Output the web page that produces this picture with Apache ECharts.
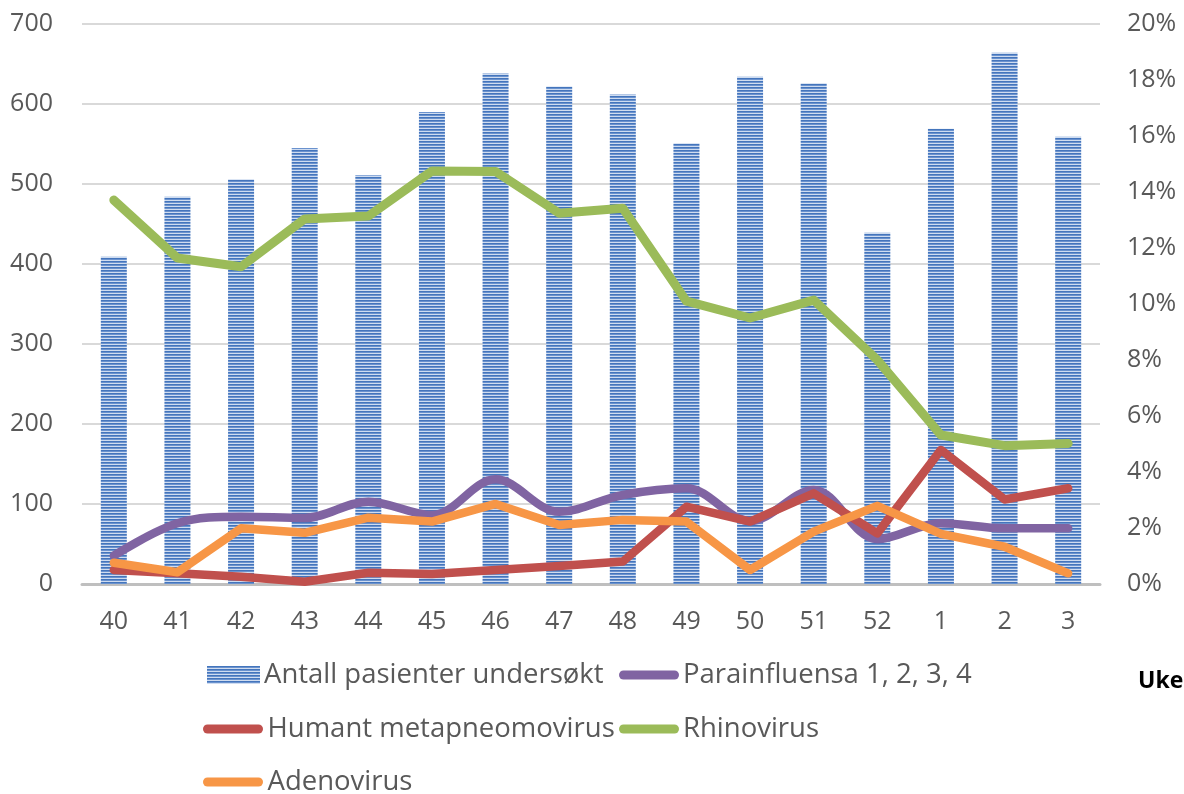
<!DOCTYPE html>
<html>
<head>
<meta charset="utf-8">
<script src="https://cdn.jsdelivr.net/npm/echarts@6/dist/echarts.min.js"></script>
<style>
html,body{margin:0;padding:0;background:#fff;}
#chart{width:1184px;height:794px;}
</style>
</head>
<body>
<div id="chart"></div>
<script>
const weeks = ['40','41','42','43','44','45','46','47','48','49','50','51','52','1','2','3'];
const patients = [409, 484, 506, 545, 511, 590, 638, 622, 612, 551, 634, 626, 439, 569, 664, 559];
const parainfluensa = [0.0101, 0.0217, 0.0240, 0.0236, 0.0294, 0.0246, 0.0374, 0.0258, 0.0318, 0.0342, 0.0225, 0.0336, 0.0160, 0.0217, 0.0199, 0.0199];
const metapneumo = [0.0050, 0.0038, 0.0026, 0.0008, 0.0040, 0.0036, 0.0050, 0.0064, 0.0080, 0.0276, 0.0223, 0.0324, 0.0181, 0.0479, 0.0302, 0.0342];
const rhinovirus = [0.1371, 0.1164, 0.1133, 0.1304, 0.1314, 0.1475, 0.1473, 0.1324, 0.1342, 0.1010, 0.0950, 0.1014, 0.0800, 0.0532, 0.0494, 0.0502];
const adenovirus = [0.0076, 0.0042, 0.0199, 0.0183, 0.0237, 0.0223, 0.0286, 0.0211, 0.0229, 0.0223, 0.0050, 0.0187, 0.0279, 0.0179, 0.0133, 0.0038];
const leftTicks = {min: 0, max: 700, interval: 100};
const rightTicks = {min: 0, max: 0.2, interval: 0.02};
const names = ['Antall pasienter undersøkt', 'Parainfluensa 1, 2, 3, 4', 'Humant metapneomovirus', 'Rhinovirus', 'Adenovirus'];

const cv = document.createElement('canvas');
cv.width = 4; cv.height = 3;
const cx = cv.getContext('2d');
const rows = ['#4475bc', '#6a92ce', '#cfdcf0'];
rows.forEach((c, i) => { cx.fillStyle = c; cx.fillRect(0, i, 4, 1); });
const barPattern = {image: cv, repeat: 'repeat'};

const FONT = 'Open Sans';
const lineIcon = 'path://M4.5,0 H55.5 A4.5,4.5 0 0 1 55.5,9 H4.5 A4.5,4.5 0 0 1 4.5,0 Z';
const colors = ['#4f81bd', '#8064a2', '#c0504d', '#9bbb59', '#f79646'];

function mkLegend(name, left, top, icon, w, h) {
  return {
    data: [{name: name, icon: icon}],
    left: left, top: top,
    itemWidth: w, itemHeight: h,
    itemGap: 0, padding: 0,
    textStyle: {fontFamily: FONT, fontSize: 27.5, color: '#595959', padding: [0, 0, 0, -1]},
    selectedMode: false
  };
}

const chart = echarts.init(document.getElementById('chart'), null, {renderer: 'canvas'});
const lineBase = (width) => ({width: width, cap: 'round', join: 'round'});
chart.setOption({
  animation: false,
  textStyle: {fontFamily: FONT},
  grid: {left: 82, right: 84, top: 24, bottom: 210, containLabel: false},
  legend: [
    mkLegend(names[0], 207, 661, 'rect', 53, 18),
    mkLegend(names[1], 619, 661, lineIcon, 60, 9),
    mkLegend(names[2], 203, 715, lineIcon, 61, 9),
    mkLegend(names[3], 619, 715, lineIcon, 60, 9),
    mkLegend(names[4], 203, 768, lineIcon, 61, 9)
  ],
  graphic: [{
    type: 'text', left: 1138, top: 670,
    style: {text: 'Uke', fontFamily: FONT, fontWeight: 'bold', fontSize: 23, fill: '#000'}
  }],
  xAxis: {
    type: 'category', data: weeks, boundaryGap: true,
    axisLine: {lineStyle: {color: '#bfbfbf', width: 3}},
    axisTick: {show: false},
    axisLabel: {fontFamily: FONT, fontSize: 25, color: '#595959', margin: 25}
  },
  yAxis: [{
    type: 'value', min: leftTicks.min, max: leftTicks.max, interval: leftTicks.interval,
    axisLine: {show: false}, axisTick: {show: false},
    splitLine: {lineStyle: {color: '#d9d9d9', width: 2}},
    axisLabel: {fontFamily: FONT, fontSize: 25, color: '#595959', margin: 29}
  }, {
    type: 'value', min: rightTicks.min, max: rightTicks.max, interval: rightTicks.interval,
    axisLine: {show: false}, axisTick: {show: false}, splitLine: {show: false},
    axisLabel: {fontFamily: FONT, fontSize: 25, color: '#595959', margin: 27,
      formatter: v => Math.round(v * 100) + '%'}
  }],
  series: [
    {name: names[0], type: 'bar', data: patients, barWidth: 26, yAxisIndex: 0,
      itemStyle: {color: barPattern}},
    {name: names[1], type: 'line', data: parainfluensa, yAxisIndex: 1, smooth: 0.35,
      showSymbol: false, symbol: 'none', color: colors[1], lineStyle: Object.assign({color: colors[1]}, lineBase(8.5))},
    {name: names[2], type: 'line', data: metapneumo, yAxisIndex: 1,
      showSymbol: false, symbol: 'none', color: colors[2], lineStyle: Object.assign({color: colors[2]}, lineBase(8.5))},
    {name: names[3], type: 'line', data: rhinovirus, yAxisIndex: 1,
      showSymbol: false, symbol: 'none', color: colors[3], lineStyle: Object.assign({color: colors[3]}, lineBase(9))},
    {name: names[4], type: 'line', data: adenovirus, yAxisIndex: 1,
      showSymbol: false, symbol: 'none', color: colors[4], lineStyle: Object.assign({color: colors[4]}, lineBase(8.5))}
  ]
});
</script>
</body>
</html>
